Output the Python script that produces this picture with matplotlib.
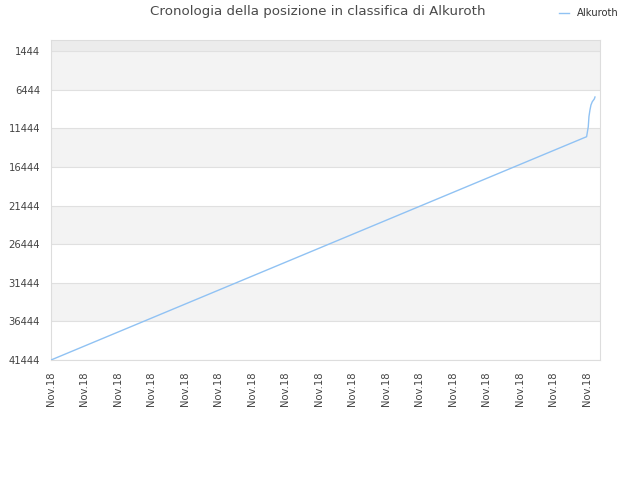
import matplotlib
matplotlib.use("Agg")
import matplotlib.pyplot as plt

# data
days = [0, 159.9, 160.4, 160.6, 160.9, 161.2, 161.6, 162.2, 162.4]
ranks = [41444, 12524, 11229, 9934, 9066, 8418, 7991, 7641, 7382]
tick_days = list(range(0, 161, 10))
tick_labels = ["Nov.18"] * len(tick_days)
ytick_values = [1444, 6444, 11444, 16444, 21444, 26444, 31444, 36444, 41444]
series_name = "Alkuroth"
title = "Cronologia della posizione in classifica di Alkuroth"

fig = plt.figure(figsize=(6.4, 4.8), dpi=100)
ax = fig.add_axes([51 / 640, 120 / 480, 549 / 640, 320 / 480])

# bands
ax.axhspan(0, ytick_values[0], color="#ececec", zorder=0, lw=0)
for i in range(0, len(ytick_values) - 1, 2):
    ax.axhspan(ytick_values[i], ytick_values[i + 1], color="#f3f3f3", zorder=0, lw=0)
for v in ytick_values:
    ax.axhline(v, color="#e0e0e0", lw=0.8, zorder=1)

ax.plot(days, ranks, color="#90c2f3", lw=1.0, zorder=3, label=series_name)

ax.set_xlim(0, 163.9)
ax.set_ylim(41444, 0)
ax.set_yticks(ytick_values)
ax.set_yticklabels([str(v) for v in ytick_values], fontsize=7.2, color="#444444")
ax.set_xticks(tick_days)
ax.set_xticklabels(tick_labels, rotation=90, fontsize=7.2, color="#444444")
ax.tick_params(axis="y", length=0, pad=8)
ax.tick_params(axis="x", length=0, pad=8)

for s in ["top", "right", "bottom", "left"]:
    ax.spines[s].set_color("#dddddd")
    ax.spines[s].set_linewidth(0.8)

fig.text(318 / 640, 1 - 12 / 480, title, ha="center", va="center", fontsize=9.6, color="#4a4a4a")
leg = fig.legend(loc="center left", bbox_to_anchor=(550 / 640, 1 - 13 / 480), frameon=False,
                 fontsize=7.2, handlelength=1.0, handletextpad=0.8)
for t in leg.get_texts():
    t.set_color("#333333")

fig.savefig("out.png", dpi=100)
